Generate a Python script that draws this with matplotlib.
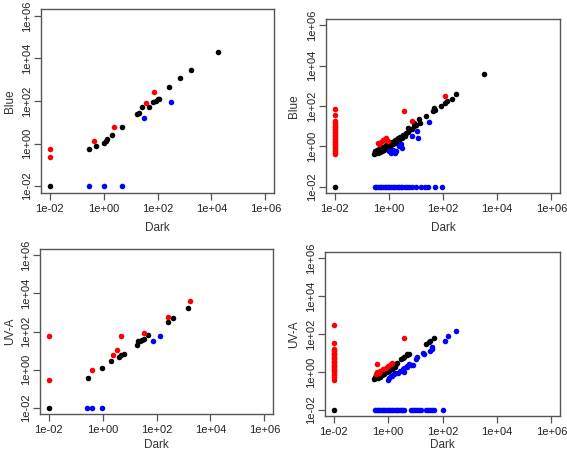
import numpy as np
import matplotlib
matplotlib.use("Agg")
import matplotlib.pyplot as plt

plt.rcParams['font.family'] = ['Liberation Sans', 'DejaVu Sans']

# values are log10 exponents (zeros were drawn at 1e-02)
# --- top left: Blue vs Dark ---
tl_black_x = [-2, -0.55, -0.29, 0.0, 0.08, 0.13, 0.32, 0.67, 1.25, 1.32, 1.42, 1.68,
              1.84, 1.93, 2.02, 2.07, 2.43, 2.84, 3.25, 4.23]
tl_black_y = [-2, -0.26, -0.10, 0.01, 0.13, 0.20, 0.39, 0.79, 1.37, 1.45, 1.70, 1.73,
              1.95, 2.01, 2.08, 2.08, 2.66, 3.10, 3.47, 4.32]
tl_red_x = [-2, -2, -0.36, 0.39, 1.56, 1.87]
tl_red_y = [-0.26, -0.64, 0.13, 0.79, 1.89, 2.42]
tl_blue_x = [-0.55, 0.0, 0.69, 1.50, 2.49]
tl_blue_y = [-2, -2, -2, 1.20, 1.97]

# --- top right: Blue vs Dark ---
tr_black_x = [-2, -0.55, -0.52, -0.50, -0.48, -0.45, -0.42, -0.40, -0.38, -0.35, -0.32,
              -0.30, -0.28, -0.25, -0.22, -0.20, -0.18, -0.15, -0.12, -0.10, -0.08,
              -0.05, -0.02, 0.00, 0.03, 0.06, 0.09, 0.12, 0.15, 0.18, 0.22, 0.26, 0.30,
              0.34, 0.38, 0.42, 0.47, 0.52, 0.58, 0.64, 0.70, 0.76, 0.84, 0.93, 1.00,
              0.72, 0.93, 1.12, 1.14, 1.36, 1.64, 1.67, 1.71, 1.92, 2.08, 2.13, 2.35,
              2.47, 3.52]
tr_black_y = [-2, -0.38, -0.30, -0.22, -0.35, -0.28, -0.18, -0.33, -0.25, -0.12, -0.28,
              -0.20, -0.08, -0.22, -0.12, -0.02, -0.18, -0.06, 0.04, -0.10, 0.02,
              0.10, -0.04, 0.06, 0.15, 0.02, 0.12, 0.22, 0.10, 0.20, 0.30, 0.18, 0.30,
              0.40, 0.32, 0.45, 0.40, 0.55, 0.50, 0.65, 0.72, 0.80, 0.88, 1.00, 1.05,
              0.92, 1.17, 1.37, 1.14, 1.50, 1.75, 1.92, 1.80, 2.00, 2.13, 2.25, 2.37,
              2.58, 3.58]
tr_red_x = [-2] * 25 + [-0.41, -0.36, -0.30, -0.22, -0.15, -0.10, -0.04, 0.55, 0.85, 2.08]
tr_red_y = [1.87, 1.55, 1.25, 1.18, 1.10, 1.02, 0.95, 0.88, 0.80, 0.72, 0.65, 0.58,
            0.50, 0.42, 0.35, 0.28, 0.20, 0.12, 0.05, -0.02, -0.10, -0.18, -0.25,
            -0.32, -0.40,
            0.17, 0.13, 0.22, 0.30, 0.35, 0.42, 0.25, 1.77, 1.26, 2.50]
tr_blue_x = [0.0, 0.07, 0.14, 0.23, 0.27, 0.39, 0.44, 0.48, 0.85, 1.05, 1.07, 1.50,
             -0.52, -0.46, -0.40, -0.34, -0.28, -0.22, -0.16, -0.10, -0.04, 0.02, 0.08,
             0.14, 0.20, 0.26, 0.32, 0.38, 0.44, 0.50, 0.58, 0.66, 0.74, 0.85, 1.01,
             1.17, 1.32, 1.44, 1.69, 1.98]
tr_blue_y = [-0.25, -0.35, -0.20, -0.33, -0.25, 0.0, 0.13, -0.11, 0.53, 0.75, 0.42, 1.20] + [-2] * 28

# --- bottom left: UV-A vs Dark ---
bl_black_x = [-2, -0.54, -0.02, 0.30, 0.61, 0.70, 0.79, 1.26, 1.32, 1.38, 1.45, 1.53,
              1.69, 2.41, 2.60, 3.18]
bl_black_y = [-2, -0.41, 0.11, 0.45, 0.66, 0.75, 0.80, 1.31, 1.48, 1.52, 1.57, 1.60,
              1.83, 2.49, 2.73, 3.24]
bl_red_x = [-2, -2, -0.38, 0.39, 0.52, 0.70, 1.54, 2.43, 3.24]
bl_red_y = [1.74, -0.55, 0.0, 0.75, 1.05, 1.79, 1.93, 2.78, 3.62]
bl_blue_x = [-0.59, -0.41, -0.02, 1.88, 2.13]
bl_blue_y = [-2, -2, -2, 1.48, 1.76]

# --- bottom right: UV-A vs Dark ---
br_black_x = [-2, -0.52, -0.48, -0.45, -0.42, -0.38, -0.35, -0.30, -0.27, -0.22, -0.18,
              -0.14, -0.10, -0.05, 0.00, 0.05, 0.10, 0.15, 0.20, 0.25, 0.30, 0.34, 0.46,
              0.53, 0.58, 0.69, 0.70, 0.78, 1.39, 1.50, 1.55, 1.70]
br_black_y = [-2, -0.38, -0.28, -0.34, -0.22, -0.30, -0.15, -0.24, -0.10, -0.18, -0.03,
              -0.12, 0.05, -0.02, 0.12, 0.05, 0.20, 0.14, 0.30, 0.25, 0.40, 0.49, 0.67,
              0.75, 0.81, 0.90, 0.93, 0.93, 1.47, 1.59, 1.61, 1.79]
br_red_x = [-2] * 24 + [-0.45, -0.40, -0.39, -0.35, -0.30, -0.20, -0.08, 0.0, 0.10, 0.16, 0.57]
br_red_y = [2.50, 1.52, 1.23, 1.16, 1.09, 1.02, 0.95, 0.88, 0.81, 0.74, 0.67, 0.60,
            0.52, 0.45, 0.38, 0.31, 0.24, 0.17, 0.10, 0.03, -0.05, -0.15, -0.25, -0.40,
            -0.10, 0.0, 0.43, -0.05, 0.05, 0.13, 0.22, 0.30, 0.40, 0.49, 1.79]
br_blue_x = [-0.02, 0.04, 0.10, 0.15, 0.23, 0.27, 0.35, 0.45, 0.53, 0.58, 0.55, 0.59,
             0.69, 0.70, 0.78, 0.83, 0.90, 1.03, 1.07, 1.30, 1.33, 1.55, 1.60, 1.63,
             2.08, 2.22, 2.49,
             -0.50, -0.44, -0.38, -0.32, -0.26, -0.20, -0.14, -0.08, -0.02, 0.04, 0.10,
             0.16, 0.22, 0.28, 0.34, 0.40, 0.46, 0.52, 0.58, 0.83, 0.90, 0.98, 1.06,
             1.14, 1.20, 1.38, 1.46, 1.53, 1.61, 1.69, 2.00]
br_blue_y = [-0.40, -0.31, -0.22, -0.19, -0.13, -0.05, -0.05, 0.04, 0.04, -0.01, 0.13,
             0.22, 0.31, 0.26, 0.40, 0.35, 0.36, 0.67, 0.81, 1.02, 0.97, 1.11, 1.20,
             1.29, 1.64, 1.91, 2.18] + [-2] * 31

ticks = [1e-2, 1e0, 1e2, 1e4, 1e6]
tick_labels = ["1e-02", "1e+00", "1e+02", "1e+04", "1e+06"]

W, H = 567, 450
fig = plt.figure(figsize=(W / 100, H / 100), dpi=100)

frame_col = "#555555"


def panel(box, ylab, series, xlab_y, ylab_x):
    left, top, right, bottom = box
    ax = fig.add_axes([left / W, (H - bottom) / H, (right - left) / W, (bottom - top) / H])
    for xs, ys, col in series:
        ax.scatter(10.0 ** np.array(xs), 10.0 ** np.array(ys), s=16, c=col,
                   linewidths=0, zorder=3)
    ax.set_xscale("log")
    ax.set_yscale("log")
    lo, hi = 10 ** -2.32, 10 ** 6.32
    ax.set_xlim(lo, hi)
    ax.set_ylim(lo, hi)
    ax.set_xticks(ticks)
    ax.set_xticklabels(tick_labels)
    ax.set_yticks(ticks)
    ax.set_yticklabels(tick_labels, rotation=90, va="center")
    ax.minorticks_off()
    ax.tick_params(length=5, width=0.9, color=frame_col, labelsize=8,
                   labelcolor="#222222")
    ax.tick_params(axis="x", pad=3)
    ax.tick_params(axis="y", pad=1.5)
    for sp in ax.spines.values():
        sp.set_color(frame_col)
        sp.set_linewidth(1.0)
    ax.set_xlabel("Dark", fontsize=8.5, color="#333333")
    ax.set_ylabel(ylab, fontsize=8.5, color="#333333")
    h = bottom - top
    w = right - left
    ax.xaxis.set_label_coords(0.5, (bottom - xlab_y) / h)
    ax.yaxis.set_label_coords((ylab_x - left) / w, 0.5)
    ax.xaxis.label.set_va("center")
    ax.yaxis.label.set_va("center")
    return ax


panel((41, 9, 274, 193), "Blue",
      [(tl_black_x, tl_black_y, "black"), (tl_red_x, tl_red_y, "red"),
       (tl_blue_x, tl_blue_y, "blue")], 228, 10)
panel((326, 19, 560, 193), "Blue",
      [(tr_black_x, tr_black_y, "black"), (tr_red_x, tr_red_y, "red"),
       (tr_blue_x, tr_blue_y, "blue")], 228, 294)
panel((40, 249, 273, 414), "UV-A",
      [(bl_black_x, bl_black_y, "black"), (bl_red_x, bl_red_y, "red"),
       (bl_blue_x, bl_blue_y, "blue")], 445, 10)
panel((325, 252, 560, 416), "UV-A",
      [(br_black_x, br_black_y, "black"), (br_red_x, br_red_y, "red"),
       (br_blue_x, br_blue_y, "blue")], 445, 294)

fig.savefig("out.png", dpi=100, facecolor="white")
